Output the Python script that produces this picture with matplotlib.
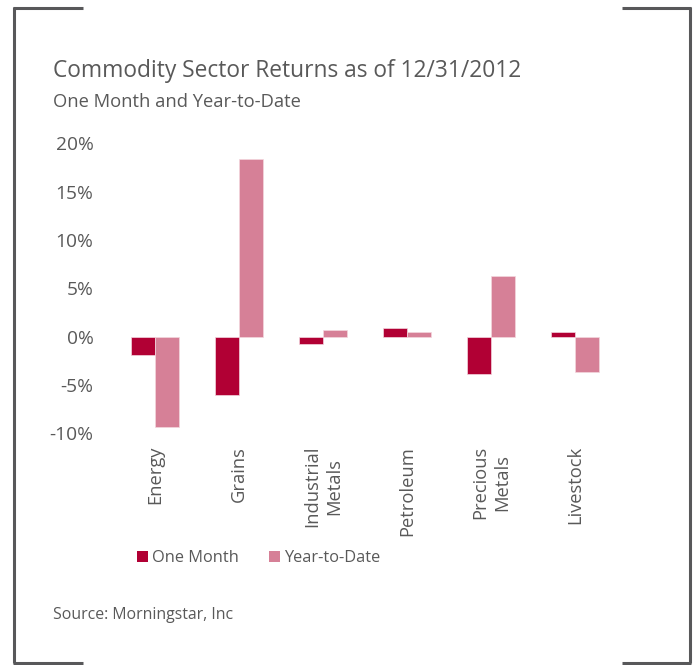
import numpy as np
import matplotlib
matplotlib.use("Agg")
import matplotlib.pyplot as plt
from matplotlib.lines import Line2D
from matplotlib.patches import Patch

# Sector returns, in percent
sectors = ["Energy", "Grains", "Industrial\nMetals", "Petroleum", "Precious\nMetals", "Livestock"]
one_month = [-1.9, -6.0, -0.75, 0.9, -3.85, 0.5]
year_to_date = [-9.3, 18.4, 0.65, 0.5, 6.3, -3.6]
y_ticks = [-10, -5, 0, 5, 10, 15, 20]

DARK = "#B10034"
LIGHT = "#D68097"
TEXT = "#595959"
FRAME = "#58585A"

plt.rcParams["font.family"] = ["Open Sans", "DejaVu Sans"]

W, H = 698, 665
fig = plt.figure(figsize=(W / 100, H / 100), dpi=100)

def fx(px):
    return px / W

def fy(py):
    return 1 - py / H

# axes placed so that 20% sits at y=143 and -10% at y=433
ax = fig.add_axes([fx(113), fy(433.4), fx(504), (433.4 - 143.3) / H])

x = np.arange(len(sectors))
w = 0.286
ax.bar(x - w / 2, one_month, w, color=DARK, edgecolor="#f3d6de", linewidth=0.5)
ax.bar(x + w / 2, year_to_date, w, color=LIGHT, edgecolor="#f3d6de", linewidth=0.5)

ax.set_xlim(-0.5, len(sectors) - 0.5)
ax.set_ylim(-10, 20)
ax.set_yticks(y_ticks)
ax.set_yticklabels([f"{t}%" for t in y_ticks], fontsize=13.8, color=TEXT)
ax.set_xticks(x)
ax.set_xticklabels(sectors, rotation=90, fontsize=13.2, color=TEXT,
                   ha="center", va="top", multialignment="center",
                   linespacing=1.3)
ax.tick_params(axis="y", length=0, pad=14)
ax.tick_params(axis="x", length=0, pad=9)
for s in ax.spines.values():
    s.set_visible(False)

fig.text(fx(53), fy(77), "Commodity Sector Returns as of 12/31/2012",
         fontsize=16.4, color=TEXT, va="baseline")
fig.text(fx(53), fy(107), "One Month and Year-to-Date",
         fontsize=13.2, color=TEXT, va="baseline")
fig.text(fx(53), fy(619), "Source: Morningstar, Inc",
         fontsize=11.4, color=TEXT, va="baseline")

handles = [Patch(facecolor=DARK), Patch(facecolor=LIGHT)]
fig.legend(handles, ["One Month", "Year-to-Date"], loc="center",
           bbox_to_anchor=(fx(258.5), fy(558)), ncol=2, frameon=False,
           fontsize=11.8, labelcolor=TEXT, handlelength=0.7, handleheight=0.7,
           handletextpad=0.25, columnspacing=1.8)

# bracket-style frame corners
lw = 2.2
frame = [
    ([14, 14], [7, 663]),
    ([13, 83], [7.5, 7.5]),
    ([689.5, 689.5], [7, 663]),
    ([622, 690.5], [7.5, 7.5]),
    ([13, 83], [662.5, 662.5]),
    ([622, 690.5], [662.5, 662.5]),
]
for xs, ys in frame:
    fig.add_artist(Line2D([fx(v) for v in xs], [fy(v) for v in ys],
                          color=FRAME, linewidth=lw, solid_capstyle="butt"))

fig.savefig("out.png", dpi=100)
